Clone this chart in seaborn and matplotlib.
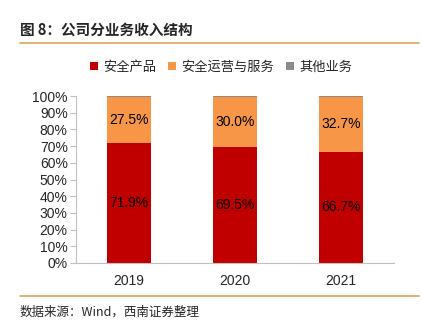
import matplotlib
matplotlib.use("Agg")
import matplotlib.pyplot as plt
import seaborn as sns
import pandas as pd
import numpy as np

years = ["2019", "2020", "2021"]
products = [71.9, 69.5, 66.7]
services = [27.5, 30.0, 32.7]
others = [0.6, 0.5, 0.6]
series_names = ["安全产品", "安全运营与服务", "其他业务"]
colors = ["#C00000", "#F79646", "#8C8C8C"]

sns.set_theme(style="white")
plt.rcParams['font.family'] = ['Liberation Sans', 'Noto Sans CJK SC', 'DejaVu Sans']

fig = plt.figure(figsize=(4.22, 3.21), dpi=100)
ax = fig.add_axes([76/422, 1-263/321, 318/422, (263-96)/321])

df = pd.DataFrame({"year": years, "p": products, "s": services, "o": others})
cum1 = np.array(products)
cum2 = cum1 + np.array(services)
cum3 = cum2 + np.array(others)

for vals, c in [(cum3, colors[2]), (cum2, colors[1]), (cum1, colors[0])]:
    sns.barplot(data=df.assign(v=vals), x="year", y="v", color=c, width=0.41, ax=ax,
                saturation=1, linewidth=0, edgecolor="none")

for i in range(len(years)):
    ax.text(i, products[i] / 2, f"{products[i]:.1f}%", ha="center", va="center", fontsize=10, color="black")
    ax.text(i, cum1[i] + services[i] / 2, f"{services[i]:.1f}%", ha="center", va="center", fontsize=10, color="black")

ax.set_ylim(0, 100)
ax.set_xlim(-0.5, 2.5)
ax.set_yticks(np.arange(0, 101, 10))
ax.set_yticklabels([f"{v}%" for v in range(0, 101, 10)], fontsize=10)
ax.tick_params(axis="x", labelsize=10, length=0, pad=8)
ax.tick_params(axis="y", length=4, width=0.8, color="#BFBFBF", left=True, pad=2)
ax.set_xlabel("")
ax.set_ylabel("")
for s in ["top", "right"]:
    ax.spines[s].set_visible(False)
for s in ["left", "bottom"]:
    ax.spines[s].set_color("#BFBFBF")
    ax.spines[s].set_linewidth(0.8)

from matplotlib.patches import Patch
handles = [Patch(facecolor=c, edgecolor="none") for c in colors]
fig.legend(handles, series_names, loc="center", bbox_to_anchor=(0.524, 1 - 67/321), ncol=3,
           frameon=False, fontsize=9.5, handlelength=0.6, handleheight=0.6, handletextpad=0.4,
           columnspacing=0.9)

fig.text(20/422, 1 - 30/321, "图 8：公司分业务收入结构", fontsize=10.5, fontweight="bold",
         va="center", ha="left", family=['Noto Sans CJK SC', 'DejaVu Sans'])
fig.add_artist(plt.Line2D([20/422, 419/422], [1 - 43/321] * 2, color="#D9A35B", lw=1.2))
fig.add_artist(plt.Line2D([20/422, 419/422], [1 - 296/321] * 2, color="#D9A35B", lw=1.2))
fig.text(20/422, 1 - 312/321, "数据来源：Wind，西南证券整理", fontsize=9, style="italic",
         va="center", ha="left", family=['Noto Sans CJK SC', 'DejaVu Sans'])

fig.savefig("out.png", dpi=100)
